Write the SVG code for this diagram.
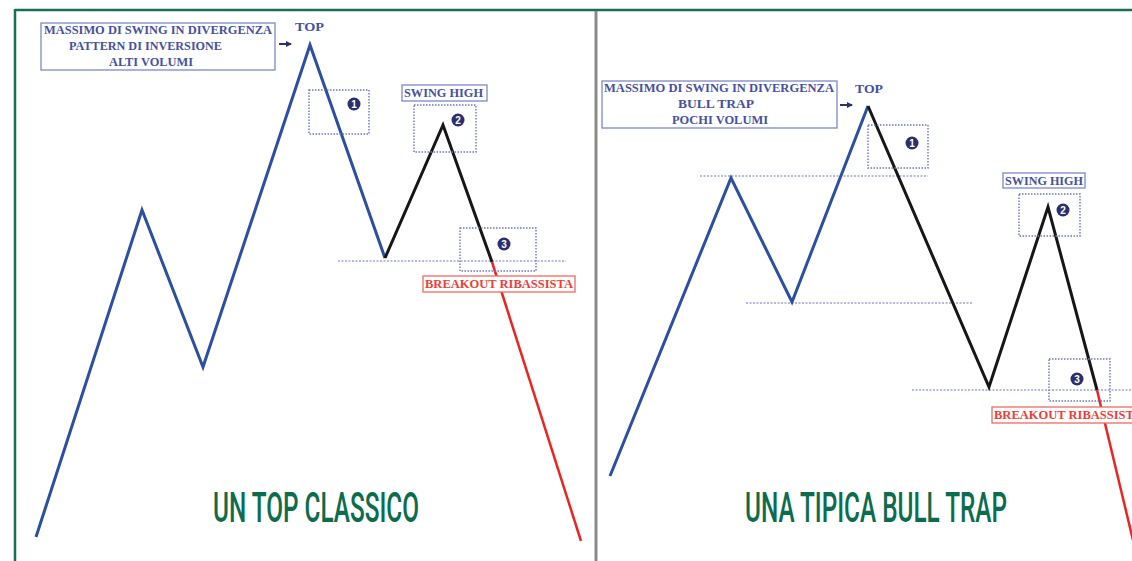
<svg xmlns="http://www.w3.org/2000/svg" width="1132" height="561" viewBox="0 0 1132 561">
<style>
.lbl{font-family:"Liberation Serif","DejaVu Serif",serif;font-weight:bold;font-size:11.5px;fill:#4550a4}
.lbox{fill:#fff;stroke:#7d88cc;stroke-width:1.3}
.rlbl{font-family:"Liberation Serif","DejaVu Serif",serif;font-weight:bold;font-size:11.5px;fill:#ee3d36}
.rbox{fill:#fff;stroke:#f06a62;stroke-width:1.3}
.dbox{fill:none;stroke:#6b74c4;stroke-width:1.4;stroke-dasharray:1.5 1.5}
.dline{fill:none;stroke:#6b74c4;stroke-width:1.2;stroke-dasharray:2 1.5}
.blue{fill:none;stroke:#2c4fa3;stroke-width:3;stroke-linejoin:miter}
.black{fill:none;stroke:#161616;stroke-width:3}
.red{fill:none;stroke:#ec2420;stroke-width:2.5}
.num{fill:#2a2f6e}
.numt{font-family:"Liberation Sans","DejaVu Sans",sans-serif;font-weight:bold;font-size:10px;fill:#fff;text-anchor:middle}
.title{font-family:Roboto,"Liberation Sans",sans-serif;font-weight:500;font-size:30px;fill:#0d6b4e}
.top{font-family:"Liberation Serif","DejaVu Serif",serif;font-weight:bold;font-size:11.5px;fill:#4550a4}
</style>
<defs>
<marker id="arr" markerWidth="6" markerHeight="6" refX="5" refY="3" orient="auto" markerUnits="userSpaceOnUse">
<path d="M0,0 L6,3 L0,6 Z" fill="#2a2f6e"/>
</marker>
</defs>
<rect x="0" y="0" width="1132" height="561" fill="#fff"/>
<g id="frame">
<line x1="15" y1="10" x2="1132" y2="10" stroke="#1a6e55" stroke-width="2.5"/>
<line x1="15" y1="9" x2="15" y2="561" stroke="#1a6e55" stroke-width="2.5"/>
<line x1="596" y1="11" x2="596" y2="561" stroke="#8a8a8a" stroke-width="3"/>
</g>
<g id="connectors">
<line class="dline" x1="338" y1="261" x2="566" y2="261"/>
<polyline class="blue" points="36,537 142,210 203,367 310,45 385,258"/>
<polyline class="black" points="385,258 443,125 492,262"/>
<line class="red" x1="492" y1="262" x2="581" y2="541"/>
<line x1="279" y1="44" x2="291" y2="44" stroke="#2a2f6e" stroke-width="2" marker-end="url(#arr)"/>
<line class="dline" x1="700" y1="176" x2="928" y2="176"/>
<line class="dline" x1="746" y1="303" x2="973" y2="303"/>
<line class="dline" x1="912" y1="390" x2="1132" y2="390"/>
<polyline class="blue" points="610,476 731,178 792,302 868,106"/>
<polyline class="black" points="868,106 989,387 1048,207 1097,390"/>
<line class="red" x1="1097" y1="390" x2="1138" y2="561"/>
<line x1="840" y1="105" x2="852" y2="105" stroke="#2a2f6e" stroke-width="2" marker-end="url(#arr)"/>
</g>
<g id="left-label">
<rect class="lbox" x="41" y="23" width="234" height="47"/>
<text class="lbl" x="44" y="34" textLength="228" lengthAdjust="spacingAndGlyphs">MASSIMO DI SWING IN DIVERGENZA</text>
<text class="lbl" x="69" y="50" textLength="153" lengthAdjust="spacingAndGlyphs">PATTERN DI INVERSIONE</text>
<text class="lbl" x="109" y="66" textLength="84" lengthAdjust="spacingAndGlyphs">ALTI VOLUMI</text>
</g>
<g id="left-top"><text class="top" x="295" y="31" textLength="29" lengthAdjust="spacingAndGlyphs">TOP</text></g>
<g id="left-b1">
<rect class="dbox" x="309" y="90" width="60" height="44"/>
<circle class="num" cx="354" cy="104" r="6.5"/><text class="numt" x="354" y="108">1</text>
</g>
<g id="left-swing">
<rect class="lbox" x="402" y="85" width="85" height="16"/>
<text class="lbl" x="404" y="97" textLength="79" lengthAdjust="spacingAndGlyphs">SWING HIGH</text>
</g>
<g id="left-b2">
<rect class="dbox" x="414" y="105" width="62" height="47"/>
<circle class="num" cx="458" cy="120" r="6.5"/><text class="numt" x="458" y="124">2</text>
</g>
<g id="left-b3">
<rect class="dbox" x="460" y="228" width="76" height="43"/>
<circle class="num" cx="504" cy="244" r="6.5"/><text class="numt" x="504" y="248">3</text>
</g>
<g id="left-breakout">
<rect class="rbox" x="423" y="276" width="152" height="16"/>
<text class="rlbl" x="425" y="288" textLength="148" lengthAdjust="spacingAndGlyphs">BREAKOUT RIBASSISTA</text>
</g>
<g id="left-title"><text class="title" transform="translate(213,522) scale(1,1.4)" x="0" y="0" textLength="206" lengthAdjust="spacingAndGlyphs">UN TOP CLASSICO</text></g>
<g id="right-label">
<rect class="lbox" x="602" y="81" width="235" height="47"/>
<text class="lbl" x="604" y="92" textLength="230" lengthAdjust="spacingAndGlyphs">MASSIMO DI SWING IN DIVERGENZA</text>
<text class="lbl" x="678" y="108" textLength="76" lengthAdjust="spacingAndGlyphs">BULL TRAP</text>
<text class="lbl" x="672" y="124" textLength="96" lengthAdjust="spacingAndGlyphs">POCHI VOLUMI</text>
</g>
<g id="right-top"><text class="top" x="855" y="93" textLength="28" lengthAdjust="spacingAndGlyphs">TOP</text></g>
<g id="right-b1">
<rect class="dbox" x="868" y="125" width="60" height="43"/>
<circle class="num" cx="912" cy="143" r="6.5"/><text class="numt" x="912" y="147">1</text>
</g>
<g id="right-swing">
<rect class="lbox" x="1003" y="173" width="82" height="15"/>
<text class="lbl" x="1005" y="185" textLength="78" lengthAdjust="spacingAndGlyphs">SWING HIGH</text>
</g>
<g id="right-b2">
<rect class="dbox" x="1019" y="194" width="61" height="42"/>
<circle class="num" cx="1063" cy="210" r="6.5"/><text class="numt" x="1063" y="214">2</text>
</g>
<g id="right-b3">
<rect class="dbox" x="1049" y="359" width="61" height="42"/>
<circle class="num" cx="1077" cy="379" r="6.5"/><text class="numt" x="1077" y="383">3</text>
</g>
<g id="right-breakout">
<rect class="rbox" x="992" y="407" width="152" height="16"/>
<text class="rlbl" x="994" y="419" textLength="148" lengthAdjust="spacingAndGlyphs">BREAKOUT RIBASSISTA</text>
</g>
<g id="right-title"><text class="title" transform="translate(745,522) scale(1,1.4)" x="0" y="0" textLength="262" lengthAdjust="spacingAndGlyphs">UNA TIPICA BULL TRAP</text></g>
</svg>
